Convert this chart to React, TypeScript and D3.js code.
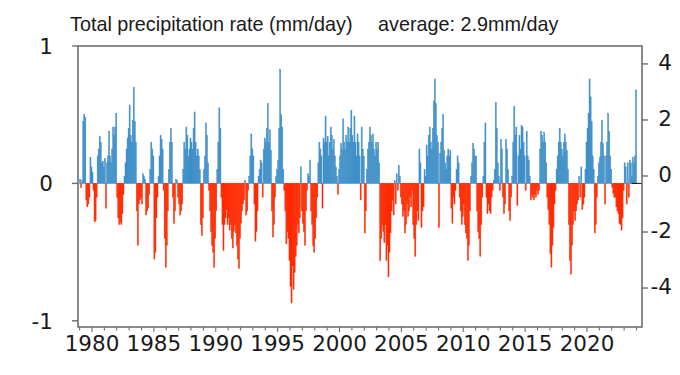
import React from "react";
import * as d3 from "d3";

const startYear = 1979;
const monthly: number[][] = [
  [0.03, -0.03, 0.02, 0.45, 0.5, 0.48, -0.12, -0.17, -0.15, -0.1, 0.19, 0.12], // 1979
  [0.08, -0.05, -0.28, -0.27, -0.1, 0.2, 0.25, 0.34, 0.3, 0.15, 0.16, 0.12], // 1980
  [0.18, -0.18, 0.15, 0.2, 0.38, 0.2, 0.15, 0.25, 0.41, 0.35, 0.41, 0.51], // 1981
  [-0.1, -0.25, -0.3, -0.28, -0.3, -0.22, -0.08, 0.05, 0.15, 0.25, 0.33, 0.4], // 1982
  [0.57, 0.35, 0.3, 0.46, 0.7, 0.45, 0.3, -0.2, -0.45, -0.15, -0.12, -0.1], // 1983
  [-0.15, 0.07, 0.05, 0.03, -0.23, -0.2, -0.18, -0.08, 0.1, 0.3, 0.25, 0.2], // 1984
  [-0.55, -0.5, -0.25, -0.1, 0.05, 0.2, 0.35, 0.32, 0.25, -0.05, -0.4, -0.61], // 1985
  [-0.45, -0.2, 0.1, 0.3, 0.4, 0.3, -0.1, -0.29, -0.2, 0.03, 0.02, -0.1], // 1986
  [-0.15, -0.23, -0.2, -0.15, 0.1, 0.3, 0.25, 0.41, 0.35, 0.2, 0.25, 0.33], // 1987
  [0.3, 0.25, 0.4, 0.52, 0.3, 0.2, 0.25, 0.2, 0.1, -0.3, -0.38, -0.25], // 1988
  [0.1, 0.2, 0.44, 0.35, 0.15, -0.05, -0.2, -0.35, -0.45, -0.5, -0.61, -0.4], // 1989
  [-0.2, 0.1, 0.3, 0.55, 0.4, -0.1, -0.3, -0.49, -0.3, -0.25, -0.19, -0.3], // 1990
  [-0.25, -0.34, -0.3, -0.4, -0.47, -0.35, -0.3, -0.36, -0.45, -0.55, -0.62, -0.4], // 1991
  [-0.29, -0.2, -0.15, -0.12, 0.02, -0.23, -0.2, -0.05, 0.05, 0.2, 0.36, 0.25], // 1992
  [0.2, -0.15, -0.42, -0.35, -0.2, 0.05, 0.1, 0.17, 0.15, -0.1, 0.25, 0.33], // 1993
  [0.3, 0.4, 0.58, 0.3, 0.39, 0.24, -0.2, -0.39, -0.3, -0.1, 0.05, 0.1], // 1994
  [0.17, 0.4, 0.83, 0.5, 0.41, 0.1, -0.05, -0.2, -0.44, -0.35, -0.4, -0.56], // 1995
  [-0.75, -0.87, -0.6, -0.77, -0.65, -0.53, -0.45, -0.3, -0.36, -0.25, 0.12, -0.2], // 1996
  [-0.29, -0.35, -0.45, -0.2, -0.05, 0.07, 0.05, 0.17, -0.2, -0.3, -0.45, -0.5], // 1997
  [-0.4, -0.25, -0.1, 0.15, 0.3, 0.25, 0.2, -0.18, 0.33, 0.3, 0.49, 0.3], // 1998
  [0.34, 0.2, 0.3, 0.41, 0.35, 0.25, 0.32, 0.2, 0.12, 0.05, -0.08, 0.1], // 1999
  [0.2, 0.29, 0.25, 0.47, 0.3, 0.25, 0.35, 0.3, 0.41, 0.3, 0.4, 0.53], // 2000
  [0.35, 0.3, 0.49, 0.3, 0.2, 0.36, 0.3, 0.2, -0.12, 0.41, 0.25, 0.2], // 2001
  [-0.36, -0.2, 0.1, 0.25, 0.3, 0.41, 0.35, 0.3, 0.36, 0.25, 0.2, 0.3], // 2002
  [0.25, 0.3, 0.15, -0.56, -0.4, -0.3, -0.35, -0.43, -0.3, -0.56, -0.45, -0.68], // 2003
  [-0.5, -0.36, -0.2, -0.12, -0.23, 0.02, -0.15, 0.07, -0.05, 0.13, 0.05, -0.1], // 2004
  [-0.15, -0.24, -0.2, -0.36, -0.3, -0.15, -0.24, -0.2, -0.1, -0.17, -0.05, -0.3], // 2005
  [-0.4, -0.53, -0.3, -0.2, -0.27, 0.25, 0.15, -0.32, -0.2, -0.17, 0.1, 0.05], // 2006
  [0.28, 0.2, 0.35, 0.41, 0.3, 0.25, 0.4, 0.6, 0.76, 0.58, 0.35, 0.3], // 2007
  [-0.32, 0.22, 0.3, 0.4, 0.5, 0.24, 0.15, 0.1, 0.2, 0.25, 0.2, 0.24], // 2008
  [-0.18, -0.29, -0.1, -0.15, -0.05, 0.1, 0.2, 0.15, -0.1, -0.2, -0.3, -0.24], // 2009
  [-0.15, -0.3, -0.36, -0.4, -0.56, -0.45, -0.2, 0.05, 0.15, 0.29, 0.25, 0.2], // 2010
  [0.2, -0.2, -0.35, -0.4, -0.53, -0.3, -0.1, 0.05, 0.3, 0.44, -0.1, -0.22], // 2011
  [-0.15, -0.2, -0.22, -0.1, -0.05, 0.02, 0.1, 0.59, 0.4, 0.15, 0.05, -0.05], // 2012
  [0.32, 0.25, -0.1, -0.22, -0.15, 0.32, 0.25, 0.1, -0.2, -0.27, -0.1, 0.05], // 2013
  [0.3, 0.56, 0.35, 0.41, -0.16, 0.2, 0.35, 0.25, 0.42, 0.41, 0.3, 0.2], // 2014
  [-0.05, 0.38, 0.2, 0.17, 0.05, -0.12, -0.08, -0.1, -0.12, -0.08, -0.1, -0.05], // 2015
  [-0.08, -0.05, 0.25, 0.38, 0.35, 0.3, 0.37, 0.3, 0.15, -0.1, -0.19, -0.3], // 2016
  [-0.51, -0.61, -0.45, -0.32, -0.15, -0.05, 0.1, 0.2, 0.3, 0.4, 0.3, 0.25], // 2017
  [0.2, 0.3, 0.36, 0.3, 0.24, 0.1, -0.3, -0.56, -0.66, -0.45, -0.3, -0.2], // 2018
  [-0.27, -0.2, -0.15, -0.12, 0.05, -0.1, 0.12, -0.19, -0.15, -0.1, 0.1, 0.3], // 2019
  [0.4, 0.51, 0.76, 0.63, 0.45, 0.2, 0.1, -0.36, -0.3, -0.1, 0.05, 0.15], // 2020
  [0.19, 0.3, 0.46, 0.29, 0.2, -0.15, 0.2, 0.3, 0.51, 0.38, 0.2, 0.1], // 2021
  [-0.03, -0.07, -0.1, -0.1, -0.17, -0.2, -0.22, -0.29, -0.3, -0.34, -0.25, -0.05], // 2022
  [0.15, 0.12, -0.15, 0.15, -0.1, 0.17, 0.15, 0.05, 0.19, 0.15, 0.2, 0.68], // 2023
];

const leftTicks = [-1, 0, 1];
const rightTicks = [-4, -2, 0, 2, 4];
const majorYears = [1980, 1985, 1990, 1995, 2000, 2005, 2010, 2015, 2020];
const minorYears = d3.range(1979, 2025);
const titleLeft = "Total precipitation rate (mm/day)";
const titleRight = "average: 2.9mm/day";

export default function App() {
  const W = 680, H = 375;
  const L = 78, R = 642, T = 46, B = 327;
  const x = d3.scaleLinear().domain([1978.869, 2024.444]).range([L, R]);
  const y = d3.scaleLinear().domain([-1.045, 1]).range([B, T]);
  const yR = d3.scaleLinear().domain([-5.39, 4.64]).range([B, T]);

  const bars: { t0: number; t1: number; v: number }[] = [];
  monthly.forEach((row, i) => {
    row.forEach((v, m) => {
      const yr = startYear + i;
      bars.push({ t0: yr + m / 12, t1: yr + (m + 1) / 12, v });
    });
  });

  const frame = "#6f6f6f";
  const tickFont = "DejaVu Sans, sans-serif";
  const titleFont = "Liberation Sans, Arial, sans-serif";

  return (
    <svg width={W} height={H} style={{ position: "absolute", left: 0, top: 0, background: "#fff" }}>
      <text x={70} y={31} fontFamily={titleFont} fontSize={19.8} fill="#1a1a1a">
        {titleLeft}
      </text>
      <text x={378} y={31} fontFamily={titleFont} fontSize={19.8} fill="#1a1a1a">
        {titleRight}
      </text>

      <g>
        {bars.map((b, i) => {
          const x0 = x(b.t0), x1 = x(b.t1);
          const y0 = y(0), yv = y(b.v);
          const c = b.v >= 0 ? "#3f8fc8" : "#ff2a00";
          return (
            <rect
              key={i}
              x={x0}
              width={Math.max(0.5, x1 - x0)}
              y={Math.min(y0, yv)}
              height={Math.abs(yv - y0)}
              fill={c}
              stroke={c}
              strokeWidth={0.5}
            />
          );
        })}
      </g>
      <line x1={x(2023.6)} x2={R} y1={y(0)} y2={y(0)} stroke="#111" strokeWidth={1} />

      <rect x={L} y={T} width={R - L} height={B - T} fill="none" stroke={frame} strokeWidth={1.6} />

      {leftTicks.map((t) => (
        <g key={"l" + t}>
          <line x1={L - 6} x2={L} y1={y(t)} y2={y(t)} stroke={frame} strokeWidth={1.4} />
          <text x={53} y={y(t)} dy="0.36em" textAnchor="end" fontFamily={tickFont} fontSize={21.5} fill="#1a1a1a">
            {t}
          </text>
        </g>
      ))}

      {rightTicks.map((t) => (
        <g key={"r" + t}>
          <line x1={R} x2={R + 6} y1={yR(t)} y2={yR(t)} stroke={frame} strokeWidth={1.4} />
          <text x={672} y={yR(t) - 2} dy="0.36em" textAnchor="end" fontFamily={tickFont} fontSize={21.5} fill="#1a1a1a">
            {t}
          </text>
        </g>
      ))}

      {minorYears.map((yr) => (
        <line key={"m" + yr} x1={x(yr)} x2={x(yr)} y1={B} y2={B + (majorYears.includes(yr) ? 5 : 3.5)} stroke={frame} strokeWidth={1.1} />
      ))}
      {majorYears.map((yr) => (
        <text key={"t" + yr} x={x(yr)} y={351} textAnchor="middle" fontFamily={tickFont} fontSize={21.5} fill="#1a1a1a">
          {yr}
        </text>
      ))}
    </svg>
  );
}
